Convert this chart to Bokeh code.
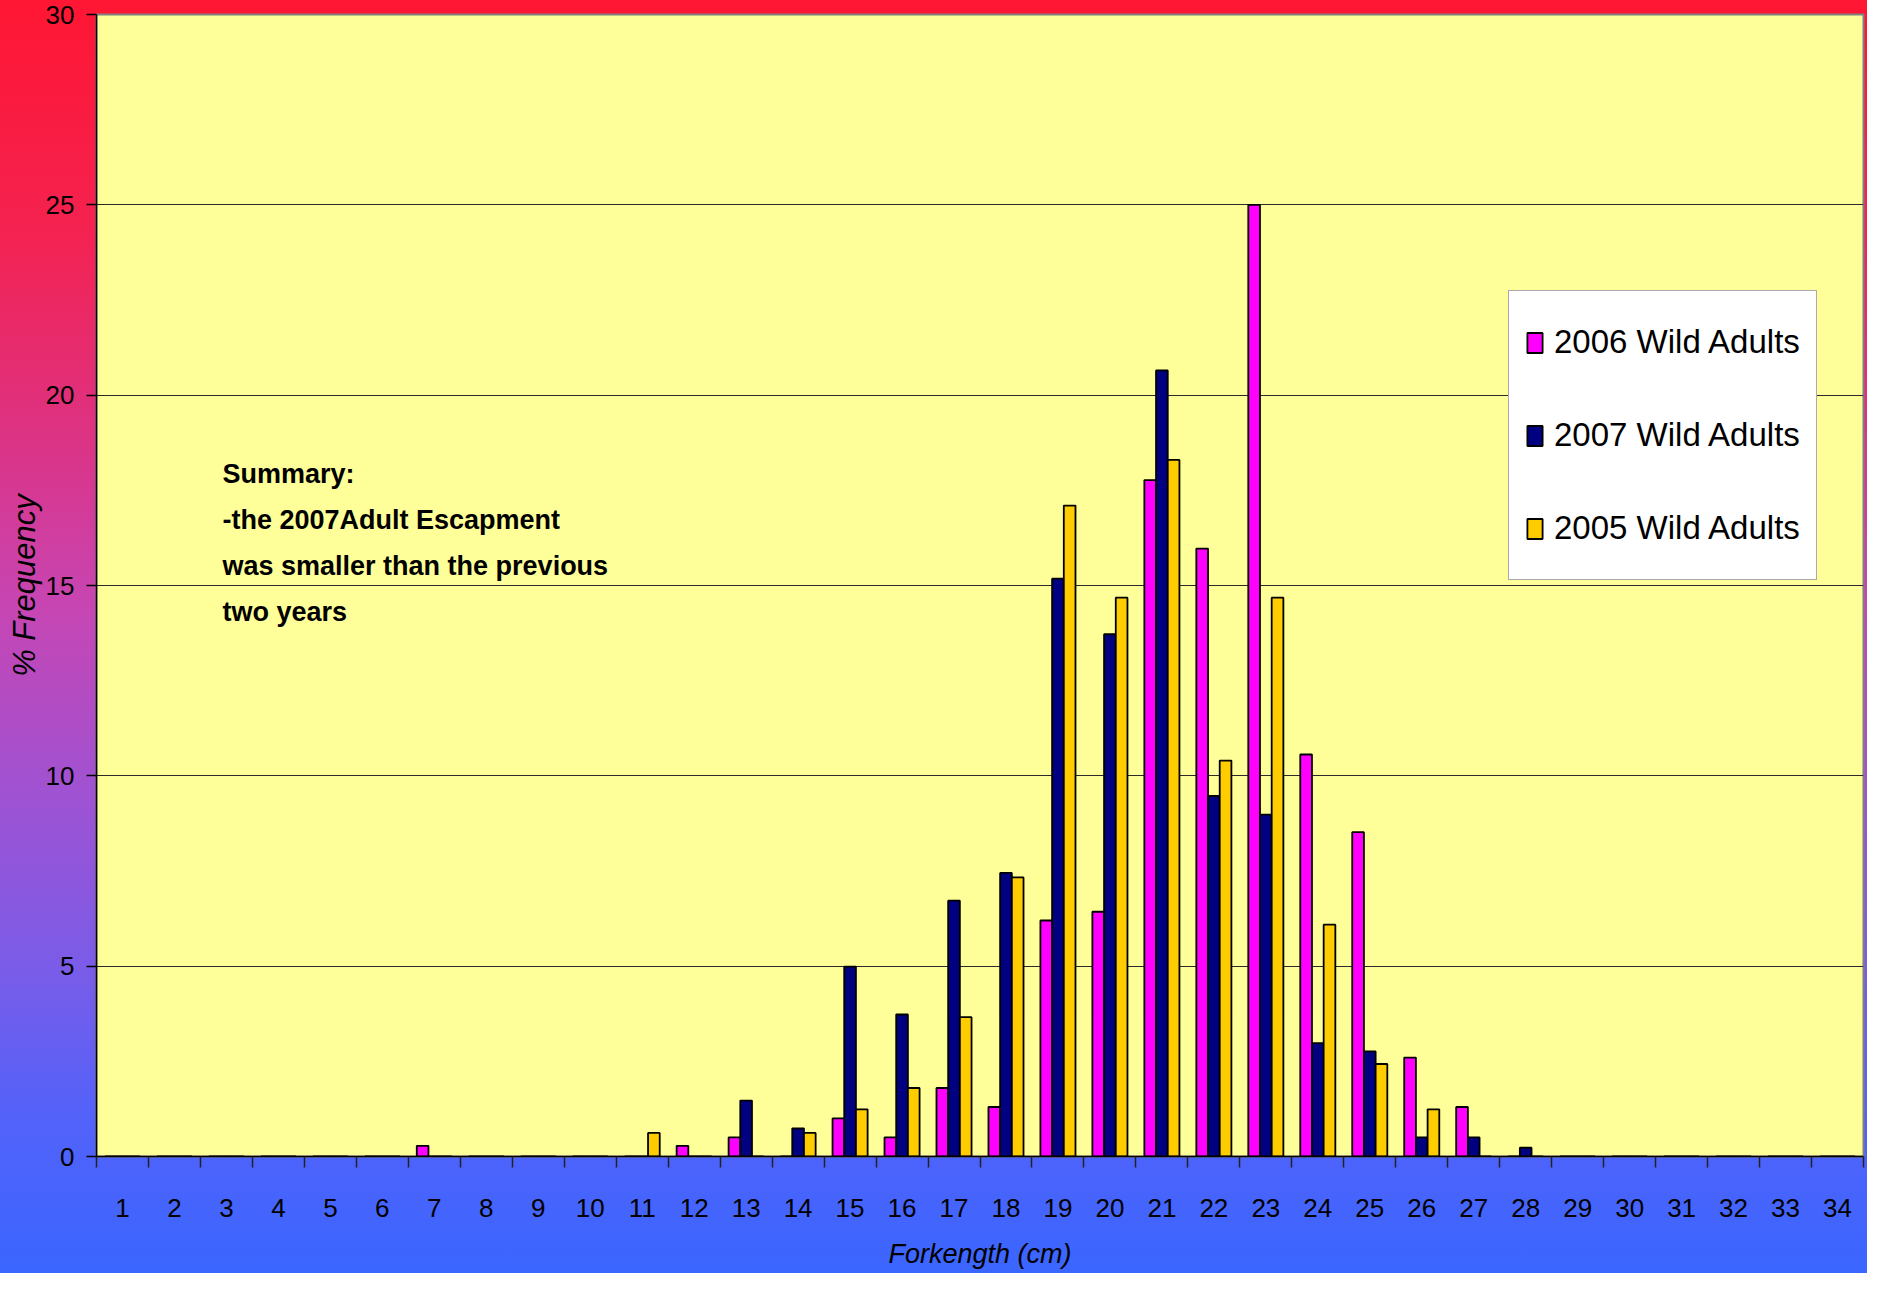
from bokeh.plotting import figure
from bokeh.models import (ColumnDataSource, Range1d, FixedTicker, Label, Legend)
from bokeh.transform import dodge
from bokeh.embed import file_html
from bokeh.resources import INLINE

# ---------------- data ----------------
categories = list(range(1, 35))
tick_labels = [str(c) for c in categories]

wild_2006 = [0, 0, 0, 0, 0, 0, 0.28, 0, 0, 0, 0, 0.28, 0.5, 0, 1.0, 0.5, 1.8, 1.3,
             6.2, 6.43, 17.77, 15.97, 25.0, 10.56, 8.52, 2.6, 1.3, 0, 0, 0, 0, 0, 0, 0]
wild_2007 = [0, 0, 0, 0, 0, 0, 0, 0, 0, 0, 0, 0, 1.47, 0.74, 4.99, 3.73, 6.72, 7.45,
             15.18, 13.72, 20.65, 9.47, 8.98, 2.98, 2.76, 0.5, 0.5, 0.23, 0, 0, 0, 0, 0, 0]
wild_2005 = [0, 0, 0, 0, 0, 0, 0, 0, 0, 0, 0.62, 0, 0, 0.62, 1.24, 1.8, 3.66, 7.33,
             17.1, 14.68, 18.3, 10.4, 14.68, 6.09, 2.43, 1.24, 0, 0, 0, 0, 0, 0, 0, 0]

series_names = ["2006 Wild Adults", "2007 Wild Adults", "2005 Wild Adults"]
series_colors = ["#FF00FF", "#000080", "#FFCC00"]

y_ticks = [0, 5, 10, 15, 20, 25, 30]
summary_lines = ["Summary:", "-the 2007Adult Escapment",
                 "was smaller than the previous", "two years"]

x_title = "Forkength (cm)"
y_title = "% Frequency"

# ---------------- figure ----------------
FONT = "'Liberation Sans', Arial, sans-serif"

source = ColumnDataSource(dict(cat=categories, s2006=wild_2006,
                               s2007=wild_2007, s2005=wild_2005))

p = figure(width=1867, height=1273, output_backend="svg", toolbar_location=None,
           x_range=Range1d(0.5, 34.5), y_range=Range1d(0, 30),
           min_border_left=96, min_border_right=4, min_border_top=14,
           min_border_bottom=117)

p.styles = {"background": "linear-gradient(180deg, #ff1633 0%, #f42250 18%, "
                          "#e0307c 32%, #c646b4 48%, #a052d2 62%, #7a5ce8 76%, "
                          "#5262fa 88%, #3a66ff 100%)"}
p.border_fill_color = None
p.background_fill_color = "#FFFF99"
p.outline_line_color = "#808080"
p.outline_line_width = 2

bar_w = 0.225
offsets = [-bar_w, 0.0, bar_w]
fields = ["s2006", "s2007", "s2005"]
renderers = []
for f, off, col in zip(fields, offsets, series_colors):
    r = p.vbar(x=dodge("cat", off, range=p.x_range), top=f, width=bar_w,
               source=source, fill_color=col, line_color="black", line_width=1.8)
    renderers.append(r)

# grid
p.xgrid.visible = False
p.ygrid.ticker = FixedTicker(ticks=[5, 10, 15, 20, 25])
p.ygrid.grid_line_color = "#2a2a2a"
p.ygrid.grid_line_width = 1

# x axis
xa = p.xaxis[0]
xa.ticker = FixedTicker(ticks=categories,
                        minor_ticks=[c - 0.5 for c in categories] + [categories[-1] + 0.5])
xa.major_label_overrides = {c: t for c, t in zip(categories, tick_labels)}
xa.major_tick_line_color = None
xa.major_tick_out = 0
xa.major_tick_in = 0
xa.minor_tick_line_color = "#222222"
xa.minor_tick_line_width = 1.5
xa.minor_tick_out = 11
xa.minor_tick_in = 0
xa.axis_line_color = "black"
xa.axis_line_width = 1.5
xa.major_label_text_font = FONT
xa.major_label_text_font_size = "26px"
xa.major_label_text_color = "black"
xa.major_label_standoff = 31
xa.axis_label = x_title
xa.axis_label_text_font = FONT
xa.axis_label_text_font_size = "27px"
xa.axis_label_text_font_style = "italic"
xa.axis_label_text_color = "black"
xa.axis_label_standoff = 19

# y axis
ya = p.yaxis[0]
ya.ticker = FixedTicker(ticks=y_ticks)
ya.major_tick_out = 10
ya.major_tick_in = 0
ya.major_tick_line_color = "black"
ya.major_tick_line_width = 1.5
ya.minor_tick_line_color = None
ya.axis_line_color = "black"
ya.axis_line_width = 1.5
ya.major_label_text_font = FONT
ya.major_label_text_font_size = "26px"
ya.major_label_text_color = "black"
ya.major_label_standoff = 12
ya.axis_label = y_title
ya.axis_label_text_font = FONT
ya.axis_label_text_font_size = "31px"
ya.axis_label_text_font_style = "italic"
ya.axis_label_text_color = "black"
ya.axis_label_standoff = 1

# legend
legend = Legend(items=[(n, [r]) for n, r in zip(series_names, renderers)],
                location=(1412, 576))
legend.label_text_font = FONT
legend.label_text_font_size = "33px"
legend.label_text_color = "black"
legend.glyph_width = 19
legend.glyph_height = 25
legend.label_height = 70
legend.label_standoff = 10
legend.padding = 16
legend.spacing = 23
legend.margin = 0
legend.background_fill_color = "white"
legend.background_fill_alpha = 1
legend.border_line_color = "#555555"
legend.border_line_width = 1
p.add_layout(legend)

# summary text
for i, line in enumerate(summary_lines):
    p.add_layout(Label(x=126, y=683 - 46 * i, x_units="screen", y_units="screen",
                       text=line, text_font=FONT, text_font_size="27px",
                       text_font_style="bold", text_color="black",
                       text_baseline="middle", text_align="left"))

open("out.html", "w").write(file_html(p, INLINE))
